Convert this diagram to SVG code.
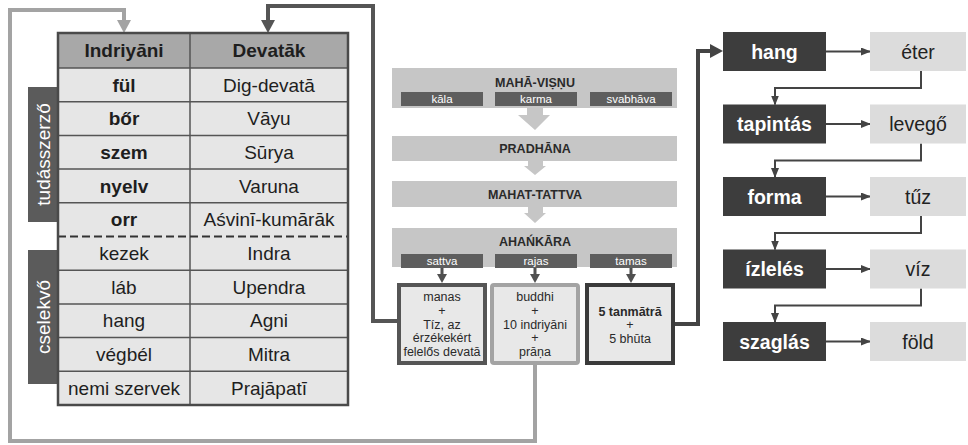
<svg xmlns="http://www.w3.org/2000/svg" width="968" height="445" viewBox="0 0 968 445">
<defs>
<style>
text{font-family:"Liberation Sans",Arial,sans-serif;text-anchor:middle}
.th{font-size:19px;font-weight:bold;fill:#1e1e1e}
.td{font-size:19px;fill:#1e1e1e}
.tb{font-size:19px;font-weight:bold;fill:#1e1e1e}
.side{font-size:19px;fill:#ffffff}
.band{fill:#c6c6c6}
.bt{font-size:12.5px;font-weight:bold;fill:#2a2a2a}
.sub{fill:#5e5e5e}
.st{font-size:11.5px;fill:#ffffff}
.bx{fill:#e8e8e8;stroke-width:4}
.bxt{font-size:12.5px;fill:#2a2a2a}
.dk{fill:#3d3d3d}
.lt{fill:#dcdcdc}
.dkt{font-size:19.5px;font-weight:bold;fill:#ffffff}
.ltt{font-size:19.5px;fill:#222222}
.chain{fill:none;stroke:#444444;stroke-width:2}
.big{fill:#c6c6c6}
</style>
<marker id="ah" markerWidth="10" markerHeight="8" refX="9" refY="4" orient="auto" markerUnits="userSpaceOnUse">
<path d="M0,0 L10,4 L0,8 Z" fill="#444444"/>
</marker>
</defs>

<g id="connectors">
<path d="M535,365 V441 H10 V10 H124 V22" fill="none" stroke="#a3a3a3" stroke-width="4"/>
<path d="M117,20 L131,20 L124,33 Z" fill="#a3a3a3"/>
<path d="M397,321 H373 V6 H268 V22" fill="none" stroke="#555555" stroke-width="4"/>
<path d="M261,20 L275,20 L268,33 Z" fill="#555555"/>
<path d="M675,324 H698 V51 H712" fill="none" stroke="#444444" stroke-width="4"/>
<path d="M710,44 L723,51 L710,58 Z" fill="#444444"/>
<path class="big" d="M527,108 H543 V115 H550 L535,130 L518,115 H527 Z"/>
<path class="big" d="M528,161 H543 V166 H546 L535,175 L524,166 H528 Z"/>
<path class="big" d="M528,207 H543 V213 H546 L535,223 L524,213 H528 Z"/>
<g fill="#505050">
<rect x="440.5" y="267" width="3" height="8"/><path d="M437,274 L447,274 L442,283 Z"/>
<rect x="533.5" y="267" width="3" height="8"/><path d="M530,274 L540,274 L535,283 Z"/>
<rect x="629.5" y="267" width="3" height="8"/><path d="M626,274 L636,274 L631,283 Z"/>
</g>
<line class="chain" x1="826" y1="51.5" x2="870" y2="51.5" marker-end="url(#ah)"/>
<line class="chain" x1="826" y1="124" x2="870" y2="124" marker-end="url(#ah)"/>
<line class="chain" x1="826" y1="196.5" x2="870" y2="196.5" marker-end="url(#ah)"/>
<line class="chain" x1="826" y1="269" x2="870" y2="269" marker-end="url(#ah)"/>
<line class="chain" x1="826" y1="341.5" x2="870" y2="341.5" marker-end="url(#ah)"/>
<path class="chain" d="M921,71 V88 H775 V104.5" marker-end="url(#ah)"/>
<path class="chain" d="M921,143.5 V160.5 H775 V177" marker-end="url(#ah)"/>
<path class="chain" d="M921,216 V233 H775 V249.5" marker-end="url(#ah)"/>
<path class="chain" d="M921,288.5 V305.5 H775 V322" marker-end="url(#ah)"/>
</g>

<g id="side-tudasszerzo">
<rect x="28" y="87" width="30" height="135" fill="#5b5b5b"/>
<text class="side" transform="translate(49.5,154.5) rotate(-90)">tudásszerző</text>
</g>
<g id="side-cselekvo">
<rect x="28" y="250" width="30" height="134" fill="#5b5b5b"/>
<text class="side" transform="translate(49.5,317) rotate(-90)">cselekvő</text>
</g>

<g id="table">
<rect x="58" y="33" width="290" height="35" fill="#a8a8a8"/>
<rect x="58" y="68" width="290" height="337" fill="#e6e6e6"/>
<g stroke="#555555" stroke-width="1.5">
<line x1="58" y1="68" x2="348" y2="68"/>
<line x1="58" y1="101.7" x2="348" y2="101.7"/>
<line x1="58" y1="135.4" x2="348" y2="135.4"/>
<line x1="58" y1="169.1" x2="348" y2="169.1"/>
<line x1="58" y1="202.8" x2="348" y2="202.8"/>
<line x1="58" y1="270.2" x2="348" y2="270.2"/>
<line x1="58" y1="303.9" x2="348" y2="303.9"/>
<line x1="58" y1="337.6" x2="348" y2="337.6"/>
<line x1="58" y1="371.3" x2="348" y2="371.3"/>
<line x1="190" y1="33" x2="190" y2="405"/>
</g>
<line x1="58" y1="236.5" x2="348" y2="236.5" stroke="#333333" stroke-width="2" stroke-dasharray="8,4"/>
<rect x="58" y="33" width="290" height="372" fill="none" stroke="#4a4a4a" stroke-width="2.5"/>
<text class="th" x="124" y="57">Indriyāni</text>
<text class="th" x="269" y="57">Devatāk</text>
<text class="tb" x="124" y="91.5">fül</text><text class="td" x="269" y="91.5">Dig-devatā</text>
<text class="tb" x="124" y="125">bőr</text><text class="td" x="269" y="125">Vāyu</text>
<text class="tb" x="124" y="159">szem</text><text class="td" x="269" y="159">Sūrya</text>
<text class="tb" x="124" y="192.5">nyelv</text><text class="td" x="269" y="192.5">Varuna</text>
<text class="tb" x="124" y="226">orr</text><text class="td" x="269" y="226">Aśvinī-kumārāk</text>
<text class="td" x="124" y="260">kezek</text><text class="td" x="269" y="260">Indra</text>
<text class="td" x="124" y="293.5">láb</text><text class="td" x="269" y="293.5">Upendra</text>
<text class="td" x="124" y="327">hang</text><text class="td" x="269" y="327">Agni</text>
<text class="td" x="124" y="361">végbél</text><text class="td" x="269" y="361">Mitra</text>
<text class="td" x="124" y="394.5">nemi szervek</text><text class="td" x="269" y="394.5">Prajāpatī</text>
</g>

<g id="maha-visnu">
<rect class="band" x="392" y="68" width="285" height="40"/>
<text class="bt" x="535" y="87">MAHĀ-VIṢṆU</text>
<rect class="sub" x="401" y="92" width="82" height="14"/><text class="st" x="442" y="103">kāla</text>
<rect class="sub" x="495" y="92" width="82" height="14"/><text class="st" x="536" y="103">karma</text>
<rect class="sub" x="590" y="92" width="82" height="14"/><text class="st" x="631" y="103">svabhāva</text>
</g>
<g id="pradhana">
<rect class="band" x="392" y="136" width="285" height="25"/>
<text class="bt" x="535" y="153">PRADHĀNA</text>
</g>
<g id="mahat-tattva">
<rect class="band" x="392" y="181" width="285" height="26"/>
<text class="bt" x="535" y="198.5">MAHAT-TATTVA</text>
</g>
<g id="ahankara">
<rect class="band" x="392" y="228" width="285" height="39"/>
<text class="bt" x="535" y="246">AHAŃKĀRA</text>
<rect class="sub" x="401" y="254" width="82" height="14"/><text class="st" x="442" y="265">sattva</text>
<rect class="sub" x="495" y="254" width="82" height="14"/><text class="st" x="536" y="265">rajas</text>
<rect class="sub" x="590" y="254" width="82" height="14"/><text class="st" x="631" y="265">tamas</text>
</g>

<g id="box-manas">
<rect class="bx" x="399" y="285" width="86" height="78" stroke="#555555"/>
<text class="bxt" x="442" y="301">manas</text>
<text class="bxt" x="442" y="315">+</text>
<text class="bxt" x="442" y="328.5">Tíz, az</text>
<text class="bxt" x="442" y="342">érzékekért</text>
<text class="bxt" x="442" y="355.5">felelős devatā</text>
</g>
<g id="box-buddhi">
<rect class="bx" x="492" y="285" width="86" height="78" rx="2" stroke="#a3a3a3"/>
<text class="bxt" x="535" y="301">buddhi</text>
<text class="bxt" x="535" y="315">+</text>
<text class="bxt" x="535" y="328.5">10 indriyāni</text>
<text class="bxt" x="535" y="342">+</text>
<text class="bxt" x="535" y="355.5">prāṇa</text>
</g>
<g id="box-tamas">
<rect class="bx" x="587" y="285" width="86" height="78" stroke="#3a3a3a"/>
<text class="bxt" x="630" y="316" font-weight="bold">5 tanmātrā</text>
<text class="bxt" x="630" y="329">+</text>
<text class="bxt" x="630" y="342.5">5 bhūta</text>
</g>

<g id="hang"><rect class="dk" x="723" y="32" width="103" height="39"/><text class="dkt" x="774.5" y="58.5">hang</text></g>
<g id="eter"><rect class="lt" x="870" y="32" width="96" height="39"/><text class="ltt" x="918" y="58.5">éter</text></g>
<g id="tapintas"><rect class="dk" x="723" y="104.5" width="103" height="39"/><text class="dkt" x="774.5" y="131">tapintás</text></g>
<g id="levego"><rect class="lt" x="870" y="104.5" width="96" height="39"/><text class="ltt" x="918" y="131">levegő</text></g>
<g id="forma"><rect class="dk" x="723" y="177" width="103" height="39"/><text class="dkt" x="774.5" y="203.5">forma</text></g>
<g id="tuz"><rect class="lt" x="870" y="177" width="96" height="39"/><text class="ltt" x="918" y="203.5">tűz</text></g>
<g id="izleles"><rect class="dk" x="723" y="249.5" width="103" height="39"/><text class="dkt" x="774.5" y="276">ízlelés</text></g>
<g id="viz"><rect class="lt" x="870" y="249.5" width="96" height="39"/><text class="ltt" x="918" y="276">víz</text></g>
<g id="szaglas"><rect class="dk" x="723" y="322" width="103" height="39"/><text class="dkt" x="774.5" y="348.5">szaglás</text></g>
<g id="fold"><rect class="lt" x="870" y="322" width="96" height="39"/><text class="ltt" x="918" y="348.5">föld</text></g>
</svg>
